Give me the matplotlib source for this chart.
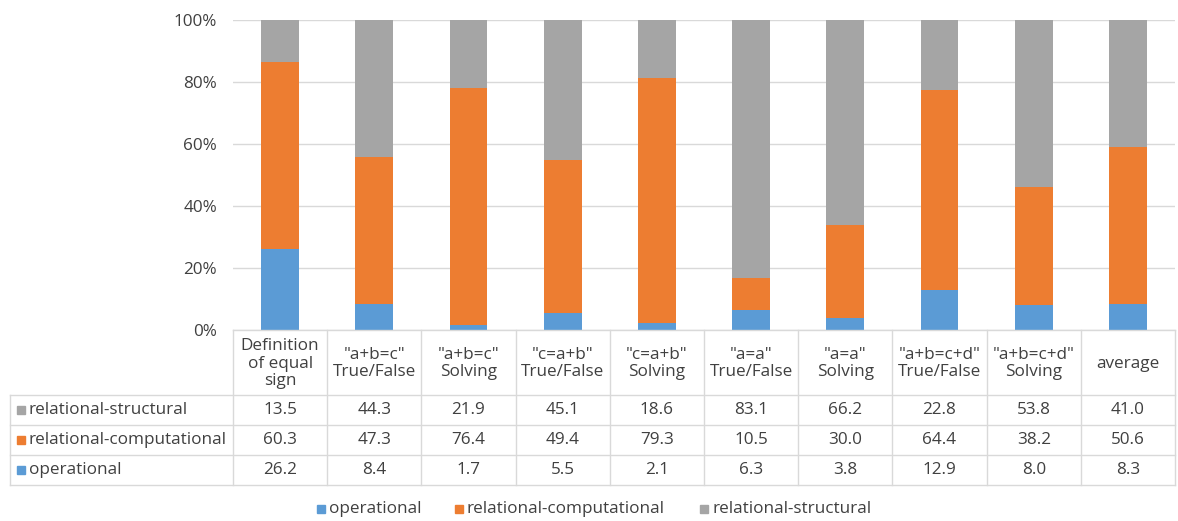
import matplotlib
matplotlib.use("Agg")
import matplotlib.pyplot as plt
from matplotlib.lines import Line2D
from matplotlib.patches import Rectangle

plt.rcParams['font.family'] = ['Open Sans', 'DejaVu Sans']

categories = ['Definition\nof equal\nsign', '"a+b=c"\nTrue/False', '"a+b=c"\nSolving',
              '"c=a+b"\nTrue/False', '"c=a+b"\nSolving', '"a=a"\nTrue/False',
              '"a=a"\nSolving', '"a+b=c+d"\nTrue/False', '"a+b=c+d"\nSolving', 'average']
operational = [26.2, 8.4, 1.7, 5.5, 2.1, 6.3, 3.8, 12.9, 8.0, 8.3]
rel_computational = [60.3, 47.3, 76.4, 49.4, 79.3, 10.5, 30.0, 64.4, 38.2, 50.6]
rel_structural = [13.5, 44.3, 21.9, 45.1, 18.6, 83.1, 66.2, 22.8, 53.8, 41.0]
series_names = ['operational', 'relational-computational', 'relational-structural']
y_ticks = [0, 20, 40, 60, 80, 100]

colors = {'operational': '#5B9BD5',
          'relational-computational': '#ED7D31',
          'relational-structural': '#A5A5A5'}
grid_c = '#D9D9D9'
text_c = '#404040'

W, H = 1178, 521
fig = plt.figure(figsize=(W / 100, H / 100), dpi=100)

# pixel layout
x0, x1 = 233, 1175
y_top, y_bot = 20, 330
ncol = len(categories)
colw = (x1 - x0) / ncol

ax = fig.add_axes([x0 / W, 1 - y_bot / H, (x1 - x0) / W, (y_bot - y_top) / H])
xs = list(range(ncol))
bw = 0.4
ax.bar(xs, operational, bw, color=colors['operational'], zorder=3)
ax.bar(xs, rel_computational, bw, bottom=operational,
       color=colors['relational-computational'], zorder=3)
bottoms = [a + b for a, b in zip(operational, rel_computational)]
ax.bar(xs, rel_structural, bw, bottom=bottoms,
       color=colors['relational-structural'], zorder=3)
ax.set_xlim(-0.5, ncol - 0.5)
ax.set_ylim(0, 100)
ax.set_yticks(y_ticks)
fs = 12.3
ax.set_yticklabels([f'{t}%' for t in y_ticks], fontsize=fs, color=text_c)
ax.tick_params(axis='y', length=0, pad=11.5)
ax.set_xticks([])
ax.grid(axis='y', color=grid_c, linewidth=1, zorder=0)
for s in ax.spines.values():
    s.set_visible(False)

# data table drawn in pixel coordinates on an overlay axes
tx = fig.add_axes([0, 0, 1, 1])
tx.set_xlim(0, W)
tx.set_ylim(H, 0)
tx.axis('off')

tbl_left = 10
hdr_bot = 395
row_h = 30
rows = [('relational-structural', rel_structural),
        ('relational-computational', rel_computational),
        ('operational', operational)]
tbl_bot = hdr_bot + row_h * len(rows)

lw = 1.0
# horizontal rules
tx.add_line(Line2D([x0, x1], [y_bot, y_bot], color=grid_c, lw=lw))
for i in range(len(rows) + 1):
    yy = hdr_bot + i * row_h
    tx.add_line(Line2D([tbl_left, x1], [yy, yy], color=grid_c, lw=lw))
# vertical rules
tx.add_line(Line2D([tbl_left, tbl_left], [hdr_bot, tbl_bot], color=grid_c, lw=lw))
for j in range(ncol + 1):
    xx = x0 + j * colw
    tx.add_line(Line2D([xx, xx], [y_bot, tbl_bot], color=grid_c, lw=lw))

for j, cat in enumerate(categories):
    cx = x0 + (j + 0.5) * colw
    tx.text(cx, (y_bot + hdr_bot) / 2 + 1, cat, ha='center', va='center',
            fontsize=fs, color=text_c, linespacing=1.1)

for i, (name, vals) in enumerate(rows):
    cy = hdr_bot + (i + 0.5) * row_h
    tx.add_patch(Rectangle((17, cy - 4), 8, 8, color=colors[name]))
    tx.text(29, cy, name, ha='left', va='center', fontsize=fs, color=text_c)
    for j, v in enumerate(vals):
        cx = x0 + (j + 0.5) * colw
        tx.text(cx, cy, f'{v:.1f}', ha='center', va='center', fontsize=fs, color=text_c)

# legend
leg_y = 509
leg_x = [317, 455, 700]
for name, lx in zip(series_names, leg_x):
    tx.add_patch(Rectangle((lx, leg_y - 4), 8, 8, color=colors[name]))
    tx.text(lx + 12, leg_y, name, ha='left', va='center', fontsize=fs, color=text_c)

fig.savefig('out.png', dpi=100)
